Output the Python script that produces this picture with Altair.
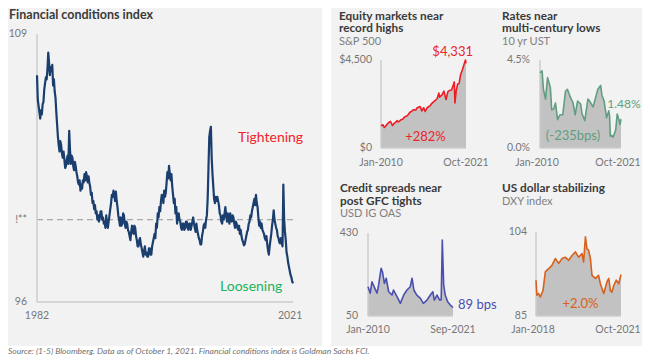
import altair as alt
import pandas as pd

# ---------------- data ----------------
# Goldman Sachs financial conditions index, readings every 1/8 year, 1982.0 .. 2021.75
fci_first_year = 1982.0
fci_step = 0.125
fci_values = [
    107.0, 105.8, 105.5, 105.2, 104.9, 105.3, 105.1, 105.6,   # 1982
    105.7, 106.3, 106.6, 106.9, 106.8, 107.3, 108.1, 107.6,   # 1983
    107.0, 107.4, 107.2, 107.5, 106.5, 106.8, 106.2, 105.9,   # 1984
    105.2, 104.6, 104.0, 103.6, 103.3, 103.8, 103.6, 103.2,   # 1985
    103.0, 103.3, 102.9, 102.5, 102.6, 102.9, 103.1, 102.7,   # 1986
    104.3, 103.4, 102.7, 103.1, 103.0, 102.6, 102.4, 102.8,   # 1987
    102.6, 102.3, 102.1, 101.8, 101.7, 101.9, 101.4, 101.7,   # 1988
    101.5, 101.9, 101.8, 102.2, 101.9, 102.3, 102.1, 101.8,   # 1989
    102.1, 101.8, 101.6, 101.2, 101.3, 100.8, 100.9, 100.5,   # 1990
    100.7, 100.3, 100.4, 100.0, 100.2, 99.9, 100.1, 100.4,    # 1991
    100.4, 100.0, 100.1, 99.8, 99.9, 99.6, 100.2, 99.8,       # 1992
    99.6, 99.9, 100.2, 100.5, 100.8, 101.2, 101.1, 101.4,     # 1993
    101.2, 100.9, 101.35, 100.9, 100.6, 100.2, 100.0, 99.7,   # 1994
    100.1, 99.7, 99.8, 100.3, 100.2, 99.8, 99.6, 99.9,        # 1995
    99.8, 99.5, 99.4, 99.2, 99.0, 99.4, 99.7, 99.4,           # 1996
    99.3, 99.7, 99.6, 99.2, 99.0, 98.7, 98.7, 99.0,           # 1997
    99.1, 98.8, 98.6, 98.4, 98.2, 98.5, 98.7, 98.3,           # 1998
    98.4, 98.2, 98.2, 98.6, 98.6, 98.3, 98.3, 98.7,           # 1999
    98.9, 99.1, 99.3, 99.1, 99.8, 99.6, 100.3, 100.1,         # 2000
    100.6, 100.4, 100.9, 101.2, 101.1, 100.8, 101.4, 101.1,   # 2001
    101.3, 101.8, 102.3, 102.0, 102.6, 102.2, 101.9, 102.2,   # 2002
    101.6, 101.2, 100.8, 101.0, 100.3, 100.6, 99.8, 100.1,    # 2003
    100.3, 100.0, 99.9, 99.6, 99.5, 99.8, 99.8, 99.5,         # 2004
    99.6, 99.9, 99.9, 99.6, 99.5, 99.8, 99.8, 99.5,           # 2005
    99.7, 99.9, 100.1, 99.8, 99.6, 99.4, 99.8, 99.5,          # 2006
    99.3, 99.1, 99.0, 98.8, 98.8, 99.2, 99.4, 99.7,           # 2007
    99.8, 99.6, 100.0, 100.2, 101.0, 102.5, 104.0, 104.3,     # 2008
    104.5, 103.0, 102.2, 101.6, 101.0, 100.8, 101.1, 100.9,   # 2009
    101.1, 100.9, 100.7, 100.3, 100.2, 99.9, 99.8, 100.2,     # 2010
    100.0, 100.3, 100.6, 100.2, 99.9, 100.3, 100.1, 99.8,     # 2011
    100.3, 100.0, 99.9, 100.2, 100.1, 99.8, 99.6, 99.9,       # 2012
    99.8, 99.6, 99.5, 99.7, 99.3, 99.5, 99.2, 99.0,           # 2013
    98.9, 98.75, 98.8, 99.0, 99.2, 99.4, 99.5, 99.8,          # 2014
    99.9, 100.2, 100.1, 100.4, 100.6, 100.8, 101.0, 100.7,    # 2015
    101.2, 100.8, 100.6, 100.1, 99.7, 99.9, 99.6, 99.8,       # 2016
    99.5, 99.4, 99.3, 99.1, 99.0, 99.2, 98.8, 98.5,           # 2017
    98.3, 98.7, 99.0, 99.3, 99.7, 100.0, 100.45, 100.0,       # 2018
    99.8, 99.6, 99.5, 99.2, 99.1, 98.9, 98.84, 99.1,          # 2019
    98.9, 98.7, 101.7, 100.0, 99.4, 99.0, 98.4, 98.2,         # 2020
    97.9, 97.7, 97.5, 97.3, 97.2, 97.0, 96.9,                 # 2021
]
fci_domain = [96, 109]
fci_year_domain = [1982.0, 2021.75]
fci_tick_values = [109, 100, 96]
fci_tick_labels = ["109", "!**", "96"]
fci_year_label_pos = [1982.0, 2021.3]
fci_year_labels = ["1982", "2021"]
fci_neutral = 100

# S&P 500
sp_years = [2010.0, 2010.25, 2010.45, 2010.6, 2010.75, 2011.0, 2011.3, 2011.6, 2011.75,
            2012.0, 2012.25, 2012.4, 2012.75, 2013.0, 2013.25, 2013.5, 2013.75, 2014.0,
            2014.25, 2014.5, 2014.8, 2015.0, 2015.4, 2015.65, 2015.9, 2016.1, 2016.4,
            2016.75, 2017.0, 2017.25, 2017.5, 2017.75, 2018.0, 2018.1, 2018.4, 2018.7,
            2018.98, 2019.25, 2019.5, 2019.75, 2020.0, 2020.13, 2020.22, 2020.4, 2020.6,
            2020.8, 2021.0, 2021.25, 2021.5, 2021.67, 2021.75]
sp_values = [1130, 1190, 1050, 1100, 1180, 1280, 1360, 1150, 1230,
             1310, 1400, 1330, 1440, 1470, 1590, 1620, 1700, 1830,
             1880, 1960, 1940, 2060, 2120, 1900, 2060, 1870, 2070,
             2150, 2270, 2360, 2430, 2520, 2810, 2600, 2700, 2910,
             2480, 2880, 2950, 2970, 3230, 3380, 2300, 2950, 3270,
             3300, 3750, 4000, 4300, 4500, 4331]
sp_domain = [0, 4500]
sp_xdomain = [2010.0, 2021.75]

# 10 yr UST yield (%)
ust_years = [2010.0, 2010.3, 2010.5, 2010.8, 2011.1, 2011.5, 2011.7, 2012.0, 2012.25,
             2012.55, 2012.9, 2013.3, 2013.7, 2013.98, 2014.4, 2014.8, 2015.1, 2015.45,
             2015.9, 2016.1, 2016.5, 2016.95, 2017.2, 2017.7, 2018.0, 2018.4, 2018.8,
             2018.98, 2019.3, 2019.65, 2019.98, 2020.1, 2020.2, 2020.4, 2020.6, 2020.98,
             2021.2, 2021.45, 2021.6, 2021.75]
ust_values = [3.85, 3.95, 3.0, 2.5, 3.6, 3.1, 1.95, 2.0, 2.3,
              1.45, 1.7, 1.7, 2.9, 3.0, 2.6, 2.3, 1.7, 2.4,
              2.25, 1.75, 1.4, 2.5, 2.4, 2.1, 2.5, 3.0, 3.2,
              2.7, 2.4, 1.55, 1.9, 1.6, 0.6, 0.65, 0.55, 0.92,
              1.74, 1.45, 1.2, 1.48]
ust_domain = [0, 4.5]
ust_xdomain = [2010.0, 2021.75]

# USD IG OAS (bps)
ig_years = [2010.0, 2010.3, 2010.55, 2011.0, 2011.24, 2011.46, 2011.8, 2012.0, 2012.25,
            2012.5, 2012.84, 2013.3, 2013.5, 2014.0, 2014.44, 2014.9, 2015.35, 2015.8,
            2016.05, 2016.3, 2016.7, 2017.2, 2017.6, 2018.1, 2018.56, 2018.9, 2019.1,
            2019.47, 2019.84, 2020.05, 2020.2, 2020.39, 2020.6, 2020.94, 2021.3, 2021.67]
ig_values = [184, 155, 207, 172, 155, 192, 268, 250, 199,
             223, 161, 146, 169, 138, 108, 146, 169, 184,
             223, 169, 146, 131, 108, 123, 146, 161, 123,
             146, 123, 125, 398, 192, 146, 115, 100, 89]
ig_domain = [50, 430]
ig_xdomain = [2010.0, 2021.67]

# DXY index
dxy_years = [2018.0, 2018.04, 2018.12, 2018.19, 2018.31, 2018.41, 2018.56, 2018.71, 2018.85,
             2019.0, 2019.15, 2019.29, 2019.44, 2019.59, 2019.74, 2019.88, 2020.03, 2020.1,
             2020.18, 2020.25, 2020.32, 2020.4, 2020.47, 2020.62, 2020.76, 2020.84, 2020.99,
             2021.13, 2021.21, 2021.28, 2021.35, 2021.43, 2021.54, 2021.65, 2021.75]
dxy_values = [93.1, 89.7, 90.1, 89.3, 90.8, 95.0, 95.7, 96.5, 98.0,
              96.9, 98.0, 98.3, 97.6, 98.7, 99.5, 98.3, 99.1, 97.2,
              102.9, 100.2, 99.9, 98.0, 94.2, 93.5, 94.2, 92.3, 90.1,
              92.7, 93.5, 90.8, 90.4, 91.9, 93.1, 92.3, 94.4]
dxy_domain = [85, 104]
dxy_xdomain = [2018.0, 2021.75]

# ---------------- styles ----------------
FONT = "Lato"
BG = "#f2f2f2"
AREA = "#c2c2c2"
AXIS = "#cccccc"
LABEL = "#777777"
TITLE = "#3a3a3a"
SUB = "#808080"
NAVY = "#1a3e6e"
RED = "#ee1c25"
GREEN = "#5f9e80"
BLUE = "#4b4fb0"
ORANGE = "#d9601a"


def scl(domain, rng):
    return alt.Scale(domain=domain, range=rng, nice=False, zero=False)


def make_panel(xs, ys, xd, yd, xr, yr, color, sw=1.6, area=True):
    df = pd.DataFrame({"x": xs, "y": ys, "base": [yd[0]] * len(xs)})
    X = lambda f: alt.X(f, type="quantitative", scale=scl(xd, xr), axis=None)
    Y = lambda f: alt.Y(f, type="quantitative", scale=scl(yd, yr), axis=None)
    layers = []
    if area:
        layers.append(alt.Chart(df).mark_area(color=AREA, opacity=1).encode(
            x=X("x"), y=Y("y"), y2=alt.Y2("base")))
    ax = pd.DataFrame({"x": [xd[0]], "x2": [xd[1]], "y": [yd[0]], "y2": [yd[1]]})
    layers.append(alt.Chart(ax).mark_rule(color=AXIS, strokeWidth=1.5).encode(
        x=X("x"), y=Y("y"), y2=alt.Y2("y2")))
    layers.append(alt.Chart(ax).mark_rule(color=AXIS, strokeWidth=1.5).encode(
        x=X("x"), x2=alt.X2("x2"), y=Y("y")))
    layers.append(alt.Chart(df).mark_line(color=color, strokeWidth=sw, strokeJoin="round").encode(
        x=X("x"), y=Y("y")))
    return layers, X, Y


def texts(X, Y, xs, ys, labels, **mark):
    df = pd.DataFrame({"x": xs, "y": ys, "t": labels})
    mark.setdefault("font", FONT)
    return alt.Chart(df).mark_text(**mark).encode(x=X("x"), y=Y("y"), text="t:N")


layers = []

# backgrounds (decorative panels, pixel positions)
bg = pd.DataFrame({"x0": [0, 323], "x1": [314, 634], "y0": [0, 0], "y1": [338, 338]})
layers.append(alt.Chart(bg).mark_rect(color=BG).encode(
    x=alt.X("x0:Q", scale=None, axis=None), x2="x1:Q",
    y=alt.Y("y0:Q", scale=None, axis=None), y2="y1:Q"))

# ---- left: financial conditions index ----
fci_years = [fci_first_year + fci_step * i for i in range(len(fci_values))]
L, X, Y = make_panel(fci_years, fci_values, fci_year_domain, fci_domain,
                     [29, 285], [294, 26], NAVY, sw=2.2, area=False)
dash = pd.DataFrame({"x": [fci_year_domain[0]], "x2": [fci_year_domain[1]], "y": [fci_neutral]})
layers.append(alt.Chart(dash).mark_rule(color="#a8a8a8", strokeWidth=1.3, strokeDash=[6, 4]).encode(
    x=X("x"), x2=alt.X2("x2"), y=Y("y")))
layers += L
layers.append(texts(X, Y, [fci_year_domain[0]] * 3, fci_tick_values, fci_tick_labels,
                    align="right", baseline="middle", dx=-10, fontSize=10.5, color=LABEL))
layers.append(texts(X, Y, fci_year_label_pos, [fci_domain[0]] * 2, fci_year_labels,
                    align="center", baseline="middle", dy=14, fontSize=10.5, color=LABEL))
layers.append(texts(X, Y, [2013.2], [103.96], ["Tightening"],
                    align="left", baseline="middle", fontSize=14, color="#f0242a"))
layers.append(texts(X, Y, [2010.42], [96.74], ["Loosening"],
                    align="left", baseline="middle", fontSize=14, color="#22b35a"))

# ---- S&P 500 ----
L, X, Y = make_panel(sp_years, sp_values, sp_xdomain, sp_domain, [373, 458], [140, 52], RED)
layers += L
layers.append(texts(X, Y, [sp_xdomain[0]] * 2, sp_domain, ["$0", "$4,500"],
                    align="right", baseline="middle", dx=-9, fontSize=10.5, color=LABEL))
layers.append(texts(X, Y, sp_xdomain, [0, 0], ["Jan-2010", "Oct-2021"],
                    align="center", baseline="middle", dy=15, fontSize=10.5, color=LABEL))
layers.append(texts(X, Y, [sp_xdomain[1]], [4500], ["$4,331"],
                    align="right", baseline="middle", dx=7, dy=-8, fontSize=13, color="#e8262b"))
layers.append(texts(X, Y, [2016.15], [578], ["+282%"],
                    align="center", baseline="middle", fontSize=13, color="#e8262b"))

# ---- 10 yr UST ----
L, X, Y = make_panel(ust_years, ust_values, ust_xdomain, ust_domain, [532, 613], [140, 52], GREEN)
layers += L
layers.append(texts(X, Y, [ust_xdomain[0]] * 2, ust_domain, ["0.0%", "4.5%"],
                    align="right", baseline="middle", dx=-10, fontSize=10.5, color=LABEL))
layers.append(texts(X, Y, ust_xdomain, [0, 0], ["Jan-2010", "Oct-2021"],
                    align="center", baseline="middle", dy=15, dx=-3, fontSize=10.5, color=LABEL))
layers.append(texts(X, Y, [2019.75], [2.23], ["1.48%"],
                    align="left", baseline="middle", fontSize=12, color=GREEN))
layers.append(texts(X, Y, [2014.79], [0.61], ["(-235bps)"],
                    align="center", baseline="middle", fontSize=13, color=GREEN))

# ---- USD IG OAS ----
L, X, Y = make_panel(ig_years, ig_values, ig_xdomain, ig_domain, [360, 445], [308, 225], BLUE)
layers += L
layers.append(texts(X, Y, [ig_xdomain[0]] * 2, ig_domain, ["50", "430"],
                    align="right", baseline="middle", dx=-10, fontSize=10.5, color=LABEL))
layers.append(texts(X, Y, ig_xdomain, [ig_domain[0]] * 2, ["Jan-2010", "Sep-2021"],
                    align="center", baseline="middle", dy=14, fontSize=10.5, color=LABEL))
layers.append(texts(X, Y, [ig_xdomain[1]], [89], ["89 bps"],
                    align="left", baseline="middle", dx=5, dy=-2, fontSize=13, color=BLUE))

# ---- DXY ----
L, X, Y = make_panel(dxy_years, dxy_values, dxy_xdomain, dxy_domain, [528, 613], [308, 224], ORANGE)
layers += L
layers.append(texts(X, Y, [dxy_xdomain[0]] * 2, dxy_domain, ["85", "104"],
                    align="right", baseline="middle", dx=-9, fontSize=10.5, color=LABEL))
layers.append(texts(X, Y, dxy_xdomain, [dxy_domain[0]] * 2, ["Jan-2018", "Oct-2021"],
                    align="center", baseline="middle", dy=14, dx=-3, fontSize=10.5, color=LABEL))
layers.append(texts(X, Y, [2019.96], [87.8], ["+2.0%"],
                    align="center", baseline="middle", fontSize=13, color=ORANGE))

# ---- titles (pixel layout) ----
titles_left = pd.DataFrame({"t": ["Financial conditions index"], "px": [1], "py": [11]})
layers.append(alt.Chart(titles_left).mark_text(
    font=FONT, fontSize=12.5, fontWeight="bold", color=TITLE, align="left", baseline="alphabetic").encode(
    x=alt.X("px:Q", scale=None, axis=None), y=alt.Y("py:Q", scale=None, axis=None), text="t:N"))
titles_bold = pd.DataFrame({
    "t": ["Equity markets near", "record highs",
          "Rates near", "multi-century lows", "Credit spreads near", "post GFC tights",
          "US dollar stabilizing"],
    "px": [331, 331, 494, 494, 332, 332, 494],
    "py": [11.5, 24, 11.5, 24, 184, 196.5, 184],
})
layers.append(alt.Chart(titles_bold).mark_text(
    font=FONT, fontSize=11.8, fontWeight="bold", color=TITLE, align="left", baseline="alphabetic").encode(
    x=alt.X("px:Q", scale=None, axis=None), y=alt.Y("py:Q", scale=None, axis=None), text="t:N"))
subs = pd.DataFrame({
    "t": ["S&P 500", "10 yr UST", "USD IG OAS", "DXY index"],
    "px": [331, 494, 332, 494],
    "py": [36.5, 36.5, 209, 196.5],
})
layers.append(alt.Chart(subs).mark_text(
    font=FONT, fontSize=11, color=SUB, align="left", baseline="alphabetic").encode(
    x=alt.X("px:Q", scale=None, axis=None), y=alt.Y("py:Q", scale=None, axis=None), text="t:N"))
src = pd.DataFrame({"t": ["Source:  (1-5) Bloomberg. Data as of October 1, 2021. "
                          "Financial conditions index is Goldman Sachs FCI."],
                    "px": [0], "py": [343]})
layers.append(alt.Chart(src).mark_text(
    font=FONT, fontSize=8.5, fontStyle="italic", color="#707070", align="left", baseline="middle").encode(
    x=alt.X("px:Q", scale=None, axis=None), y=alt.Y("py:Q", scale=None, axis=None), text="t:N"))

chart = alt.layer(*layers).resolve_scale(x="independent", y="independent").properties(
    width=634, height=348, padding=0, background="white",
    autosize=alt.AutoSizeParams(type="none"),
).configure_view(strokeWidth=0)

chart.save("out.html", embed_options={"renderer": "svg", "actions": False})
